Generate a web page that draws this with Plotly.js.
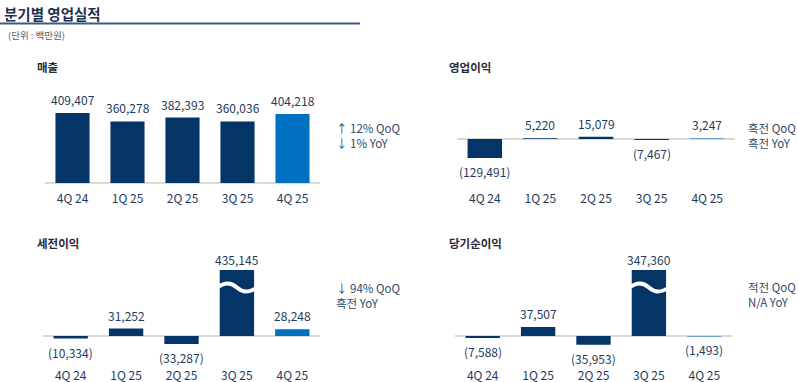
<!DOCTYPE html>
<html>
<head>
<meta charset="utf-8">
<script src="https://cdn.plot.ly/plotly-3.0.1.min.js"></script>
<style>
html,body{margin:0;padding:0;background:#fff;}
#chart{width:798px;height:382px;}
</style>
</head>
<body>
<div id="chart"></div>
<script>
// ---- data ----
const categories = ['4Q 24', '1Q 25', '2Q 25', '3Q 25', '4Q 25'];
const revenue = [409407, 360278, 382393, 360036, 404218];
const operatingIncome = [-129491, 5220, 15079, -7467, 3247];
const pretaxIncome = [-10334, 31252, -33287, 435145, 28248];
const netIncome = [-7588, 37507, -35953, 347360, -1493];

const panelTitles = ['매출', '영업이익', '세전이익', '당기순이익'];
const revenueNotes = ['↑ 12% QoQ', '↓ 1% YoY'];
const operatingNotes = ['흑전 QoQ', '흑전 YoY'];
const pretaxNotes = ['↓ 94% QoQ', '흑전 YoY'];
const netNotes = ['적전 QoQ', 'N/A YoY'];
const mainTitle = '분기별 영업실적';
const unitText = '(단위 : 백만원)';

// ---- styles ----
const W = 798, H = 382;
const NAVY = '#053466', BLUE = '#0070c0';
const TEXT = '#1f3b5c', NOTE = '#2e4a6b';
const FONT = '"Noto Sans CJK KR", "Noto Sans", sans-serif';
const fx = px => px / W;
const fy = py => 1 - py / H;

const panels = [
  {vals: revenue, notes: revenueNotes, title: panelTitles[0], xd: [45, 320], yd: [90, 184], range: [-6000, 544000], std: 6,
   titlePos: [35, 67], notePos: [334, 136]},
  {vals: operatingIncome, notes: operatingNotes, title: panelTitles[1], xd: [457, 735], yd: [95, 175], range: [-245000, 299000], std: 15,
   titlePos: [447, 67], notePos: [746, 135]},
  {vals: pretaxIncome, notes: pretaxNotes, title: panelTitles[2], xd: [43, 320], yd: [270, 350], range: [-58000, 275000], std: 17,
   titlePos: [35, 243], notePos: [334, 295]},
  {vals: netIncome, notes: netNotes, title: panelTitles[3], xd: [455, 732], yd: [270, 350], range: [-58000, 275000], std: 17,
   titlePos: [447, 243], notePos: [746, 294]}
];

const fmt = v => v < 0 ? '(' + Math.abs(v).toLocaleString('en-US') + ')' : v.toLocaleString('en-US');

const traces = [];
const annotations = [];
const shapes = [];
const layout = {
  width: W, height: H,
  margin: {l: 0, r: 0, t: 0, b: 0},
  paper_bgcolor: '#fff', plot_bgcolor: 'rgba(0,0,0,0)',
  showlegend: false,
  bargap: 0.38,
  font: {family: FONT, color: TEXT, size: 12},
  annotations: annotations,
  shapes: shapes
};

panels.forEach((p, k) => {
  const n = k + 1;
  const xa = 'x' + (n === 1 ? '' : n), ya = 'y' + (n === 1 ? '' : n);
  const xkey = 'xaxis' + (n === 1 ? '' : n), ykey = 'yaxis' + (n === 1 ? '' : n);
  traces.push({
    type: 'bar', x: categories, y: p.vals, xaxis: xa, yaxis: ya,
    marker: {color: categories.map((c, i) => i === categories.length - 1 ? BLUE : NAVY), line: {width: 0}},
    hoverinfo: 'skip', cliponaxis: true
  });
  layout[xkey] = {
    domain: [fx(p.xd[0]), fx(p.xd[1])], anchor: ya, type: 'category',
    showgrid: false, zeroline: false, showline: false, ticks: '',
    tickfont: {size: 12, color: TEXT, family: FONT}, ticklabelstandoff: p.std, fixedrange: true
  };
  layout[ykey] = {
    domain: [fy(p.yd[1]), fy(p.yd[0])], anchor: xa, range: p.range,
    showgrid: false, showticklabels: false, ticks: '', showline: false,
    zeroline: true, zerolinecolor: '#d9d9d9', zerolinewidth: 1.5, fixedrange: true
  };
  // value labels
  p.vals.forEach((v, i) => {
    const clipped = v > p.range[1];
    annotations.push({
      xref: xa, yref: ya, x: categories[i], y: Math.min(v, p.range[1]),
      text: fmt(v), showarrow: false, borderpad: 0,
      yanchor: v >= 0 ? 'bottom' : 'top', yshift: v >= 0 ? (clipped ? 1 : 4) : -4,
      font: {size: 12, color: TEXT, family: FONT}
    });
    if (clipped) {
      shapes.push({
        type: 'path', xref: xa, yref: ya + ' domain', layer: 'above',
        path: `M ${i - 0.4},0.76 C ${i - 0.2},0.86 ${i - 0.1},0.84 ${i},0.78 C ${i + 0.1},0.72 ${i + 0.2},0.70 ${i + 0.4},0.80`,
        line: {color: '#ffffff', width: 4}
      });
    }
  });
  // panel title
  annotations.push({
    xref: 'paper', yref: 'paper', x: fx(p.titlePos[0]), y: fy(p.titlePos[1]),
    xanchor: 'left', yanchor: 'middle', showarrow: false, text: '<b>' + p.title + '</b>',
    font: {size: 11.5, color: '#262c36', family: FONT}
  });
  // side notes (two lines)
  annotations.push({
    xref: 'paper', yref: 'paper', x: fx(p.notePos[0]), y: fy(p.notePos[1]),
    xanchor: 'left', yanchor: 'middle', align: 'left', showarrow: false, text: p.notes.join('<br>'),
    font: {size: 11.5, color: NOTE, family: FONT}
  });
});

// header
annotations.push({
  xref: 'paper', yref: 'paper', x: fx(2), y: fy(14), xanchor: 'left', yanchor: 'middle',
  showarrow: false, text: '<b>' + mainTitle + '</b>', font: {size: 14.5, color: '#1f3150', family: FONT}
});
annotations.push({
  xref: 'paper', yref: 'paper', x: fx(6), y: fy(35), xanchor: 'left', yanchor: 'middle',
  showarrow: false, text: unitText, font: {size: 9.5, color: '#555e6a', family: FONT}
});
shapes.push({
  type: 'line', xref: 'paper', yref: 'paper', x0: 0, x1: fx(360), y0: fy(23.5), y1: fy(23.5),
  line: {color: '#3d5a80', width: 2}
});

Plotly.newPlot('chart', traces, layout, {displayModeBar: false, staticPlot: true});
</script>
</body>
</html>
